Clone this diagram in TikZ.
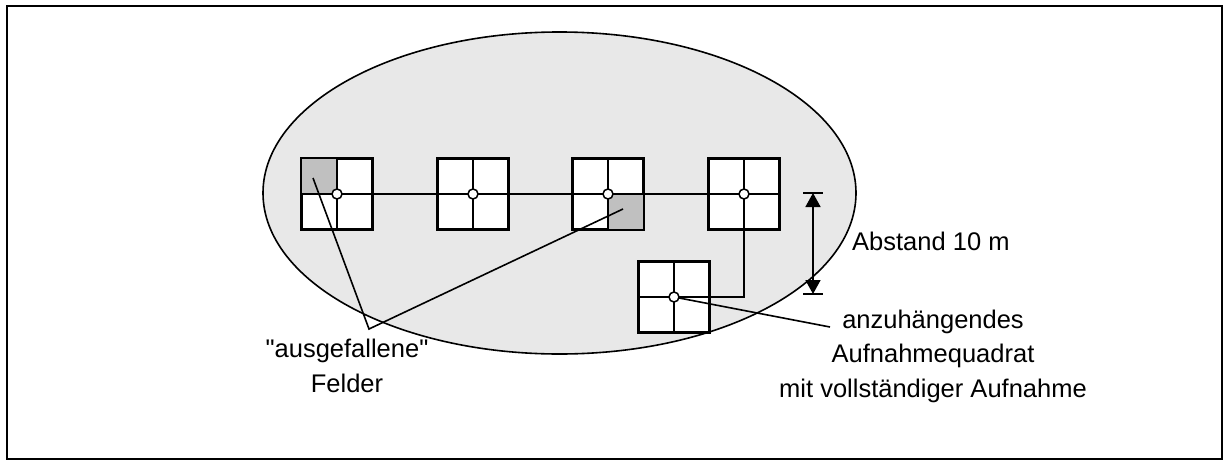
\documentclass[tikz,border=0pt]{standalone}
\usepackage{fontspec}
\setmainfont{Liberation Sans}[Ligatures=TeXOff]
\usetikzlibrary{arrows.meta}
\definecolor{ellfill}{HTML}{E8E8E8}
\definecolor{cellfill}{HTML}{C0C0C0}
\begin{document}
\begin{tikzpicture}[x=1pt,y=-1pt,
  sq/.style={draw, fill=white, minimum size=70pt, inner sep=0pt, line width=1.8pt},
  dot/.style={circle, draw, fill=white, minimum size=10pt, inner sep=0pt, line width=1.5pt},
  conn/.style={line width=1.6pt},
  lbl/.style={inner sep=0pt, font=\fontsize{25.5}{34.5}\selectfont}]
\useasboundingbox (0,0) rectangle (1229,466);
\draw[line width=2pt] (7,6) rectangle (1222,459);
\draw[fill=ellfill, line width=1.6pt] (559.5,193) ellipse [x radius=296.5, y radius=161];
% squares
\coordinate (k1) at (337,194);
\coordinate (k4) at (744,194);
\draw[conn] (k1) -- (k4);
\node[sq] (q1) at (337,194) {};
\node[sq] (q2) at (473,194) {};
\node[sq] (q3) at (608,194) {};
\node[sq] (q4) at (744,194) {};
\node[sq] (q5) at (674,297) {};
\fill[cellfill] (q1.north west) rectangle (q1.center);
\fill[cellfill] (q3.center) rectangle (q3.south east);
\foreach \q in {q1,q2,q3,q4,q5}{
  \draw[line width=1.8pt] (\q.north west) rectangle (\q.south east);
  \draw[conn] (\q.north) -- (\q.south);
  \draw[conn] (\q.west) -- (\q.east);
}
\draw[conn] (q4.south) |- (q5.east);
% pointers
\coordinate (v) at (369,329);
\coordinate (p1) at (313,178);
\coordinate (p3) at (623,209);
\draw[conn] (p1) -- (v) -- (p3);
\coordinate (p5) at (830,327);
\draw[conn] (q5.center) -- (p5);
% circles
\foreach \q/\c in {q1/c1,q2/c2,q3/c3,q4/c4,q5/c5}{
  \node[dot] (\c) at (\q.center) {};
}
% distance arrow
\coordinate (a1) at (813,193);
\coordinate (a2) at (813,294);
\draw[line width=1.6pt] ([xshift=-10pt]a1) -- ([xshift=10pt]a1);
\draw[line width=1.6pt] ([xshift=-10pt]a2) -- ([xshift=10pt]a2);
\draw[line width=1.6pt, {Triangle[length=14pt,width=15pt]}-{Triangle[length=14pt,width=15pt]}] (a1) -- (a2);
% labels
\node[lbl, anchor=base west] (abst) at (852,250) {Abstand 10 m};
\node[lbl, align=center, anchor=base] (anz) at (933,397) {anzuhängendes\\Aufnahmequadrat\\mit vollständiger Aufnahme};
\node[lbl, align=center, anchor=base] (ausg) at (347,392) {"ausgefallene"\\Felder};
\end{tikzpicture}
\end{document}
